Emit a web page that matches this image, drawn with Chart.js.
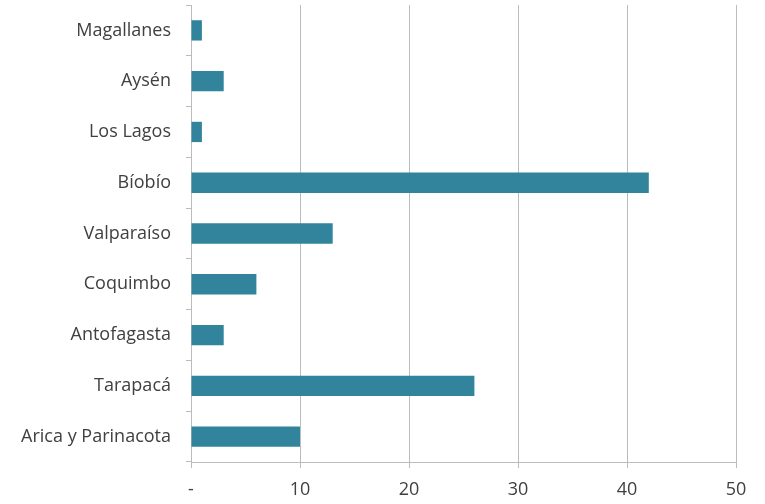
<!DOCTYPE html>
<html>
<head>
<meta charset="utf-8">
<script src="https://cdn.jsdelivr.net/npm/chart.js@4"></script>
<style>
  html, body { margin: 0; padding: 0; background: #fff; }
  #wrap { position: relative; width: 765px; height: 504px; }
</style>
</head>
<body>
<div id="wrap"><canvas id="regionChart"></canvas></div>
<script>
const regions = [
  "Magallanes",
  "Aysén",
  "Los Lagos",
  "Bíobío",
  "Valparaíso",
  "Coquimbo",
  "Antofagasta",
  "Tarapacá",
  "Arica y Parinacota",
];
const values = [1, 3, 1, 42, 13, 6, 3, 26, 10];
const xTicks = [0, 10, 20, 30, 40, 50];

const gridGray = "#bcbcbc";
const textGray = "#404040";
const font = { family: "'Open Sans', sans-serif", size: 18 };

const ctx = document.getElementById("regionChart").getContext("2d");
new Chart(ctx, {
  type: "bar",
  data: {
    labels: regions,
    datasets: [
      {
        data: values,
        backgroundColor: "#31849b",
        borderWidth: 0,
        barPercentage: 0.4,
        categoryPercentage: 1,
      },
    ],
  },
  options: {
    indexAxis: "y",
    responsive: true,
    maintainAspectRatio: false,
    animation: false,
    layout: { padding: { left: 0, right: 29, top: 5, bottom: 0 } },
    plugins: {
      legend: { display: false },
      tooltip: { enabled: false },
    },
    scales: {
      x: {
        min: 0,
        max: 50,
        afterBuildTicks: (scale) => {
          scale.ticks = xTicks.map((v) => ({ value: v }));
        },
        afterFit: (scale) => {
          scale.height = 42;
        },
        ticks: {
          color: textGray,
          font: font,
          padding: 11,
          callback: (v) => (v === 0 ? "-" : v),
        },
        grid: {
          color: gridGray,
          tickLength: 6,
          tickColor: gridGray,
        },
        border: { color: gridGray },
      },
      y: {
        afterFit: (scale) => {
          scale.width = 191;
          scale.paddingTop = 0;
          scale.paddingBottom = 0;
        },
        ticks: {
          color: textGray,
          font: font,
          padding: 15,
        },
        grid: {
          offset: true,
          drawOnChartArea: false,
          tickLength: 5,
          color: gridGray,
        },
        border: { color: gridGray },
      },
    },
  },
});
</script>
</body>
</html>
